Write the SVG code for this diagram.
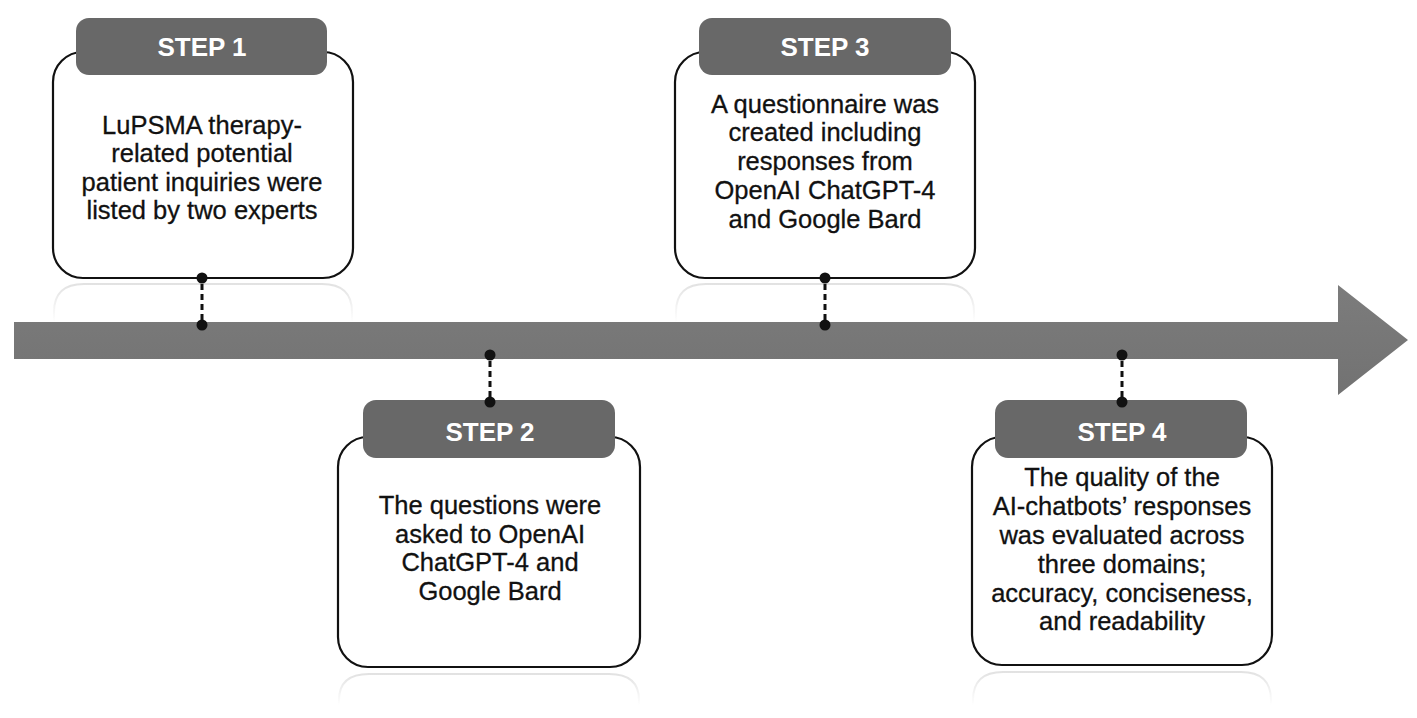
<svg xmlns="http://www.w3.org/2000/svg" width="1417" height="718" viewBox="0 0 1417 718">
<defs>
<style>
.box{fill:#fff;stroke:#111;stroke-width:2.2}
.hdr{fill:#686868}
.htxt{font-family:"Liberation Sans",Arial,sans-serif;font-weight:bold;font-size:26px;fill:#fff;text-anchor:middle}
.btxt{font-family:"Liberation Sans",Arial,sans-serif;font-size:25.5px;fill:#111;stroke:#111;stroke-width:0.3;text-anchor:middle}
.dash{stroke:#111;stroke-width:3;stroke-dasharray:6 4;fill:none}
.dot{fill:#111}
.refl{fill:none;stroke:url(#rg);stroke-width:2}
</style>
<linearGradient id="rg" x1="0" y1="0" x2="0" y2="1">
<stop offset="0" stop-color="#e2e2e2"/>
<stop offset="1" stop-color="#ffffff"/>
</linearGradient>
<linearGradient id="ag" x1="0" y1="0" x2="0" y2="1">
<stop offset="0" stop-color="#7c7c7c"/>
<stop offset="1" stop-color="#727272"/>
</linearGradient>
</defs>
<rect width="1417" height="718" fill="#fff"/>
<g id="reflections">
<path class="refl" d="M54,322 V312 Q54,284 84,284 H322 Q352,284 352,312 V322"/>
<path class="refl" d="M676,322 V312 Q676,284 706,284 H944 Q974,284 974,312 V322"/>
<path class="refl" d="M339,705 V700 Q339,674 369,674 H609 Q639,674 639,700 V705"/>
<path class="refl" d="M973,705 V700 Q973,672 1003,672 H1241 Q1271,672 1271,700 V705"/>
</g>
<g id="timeline">
<polygon points="14,322 1338,322 1338,285 1408,340 1338,395 1338,359 14,359" fill="url(#ag)"/>
</g>
<g id="step1">
<rect class="box" x="53" y="52" width="300" height="226" rx="30"/>
<rect class="hdr" x="76" y="18" width="251" height="57" rx="13"/>
<text class="htxt" x="202" y="56">STEP 1</text>
<text class="btxt" x="202" y="134">LuPSMA therapy-</text>
<text class="btxt" x="202" y="162">related potential</text>
<text class="btxt" x="202" y="191">patient inquiries were</text>
<text class="btxt" x="202" y="219">listed by two experts</text>
</g>
<g id="step2">
<rect class="box" x="338" y="437" width="302" height="230" rx="30"/>
<rect class="hdr" x="363" y="400" width="252" height="58" rx="13"/>
<text class="htxt" x="490" y="441">STEP 2</text>
<text class="btxt" x="490" y="514">The questions were</text>
<text class="btxt" x="490" y="543">asked to OpenAI</text>
<text class="btxt" x="490" y="571">ChatGPT-4 and</text>
<text class="btxt" x="490" y="600">Google Bard</text>
</g>
<g id="step3">
<rect class="box" x="675" y="52" width="300" height="226" rx="30"/>
<rect class="hdr" x="699" y="18" width="252" height="57" rx="13"/>
<text class="htxt" x="825" y="56">STEP 3</text>
<text class="btxt" x="825" y="113">A questionnaire was</text>
<text class="btxt" x="825" y="141">created including</text>
<text class="btxt" x="825" y="170">responses from</text>
<text class="btxt" x="825" y="199">OpenAI ChatGPT-4</text>
<text class="btxt" x="825" y="228">and Google Bard</text>
</g>
<g id="step4">
<rect class="box" x="972" y="437" width="300" height="228" rx="30"/>
<rect class="hdr" x="995" y="400" width="252" height="58" rx="13"/>
<text class="htxt" x="1122" y="441">STEP 4</text>
<text class="btxt" x="1122" y="486">The quality of the</text>
<text class="btxt" x="1122" y="515">AI-chatbots’ responses</text>
<text class="btxt" x="1122" y="544">was evaluated across</text>
<text class="btxt" x="1122" y="573">three domains;</text>
<text class="btxt" x="1122" y="602">accuracy, conciseness,</text>
<text class="btxt" x="1122" y="630">and readability</text>
</g>
<g id="connectors">
<line class="dash" x1="202" y1="284" x2="202" y2="320"/>
<circle class="dot" cx="202" cy="278" r="5.5"/>
<circle class="dot" cx="202" cy="325" r="5.5"/>
<line class="dash" x1="490" y1="361" x2="490" y2="397"/>
<circle class="dot" cx="490" cy="355" r="5.5"/>
<circle class="dot" cx="490" cy="402" r="5.5"/>
<line class="dash" x1="825" y1="284" x2="825" y2="320"/>
<circle class="dot" cx="825" cy="278" r="5.5"/>
<circle class="dot" cx="825" cy="325" r="5.5"/>
<line class="dash" x1="1122" y1="361" x2="1122" y2="397"/>
<circle class="dot" cx="1122" cy="355" r="5.5"/>
<circle class="dot" cx="1122" cy="402" r="5.5"/>
</g>
</svg>
